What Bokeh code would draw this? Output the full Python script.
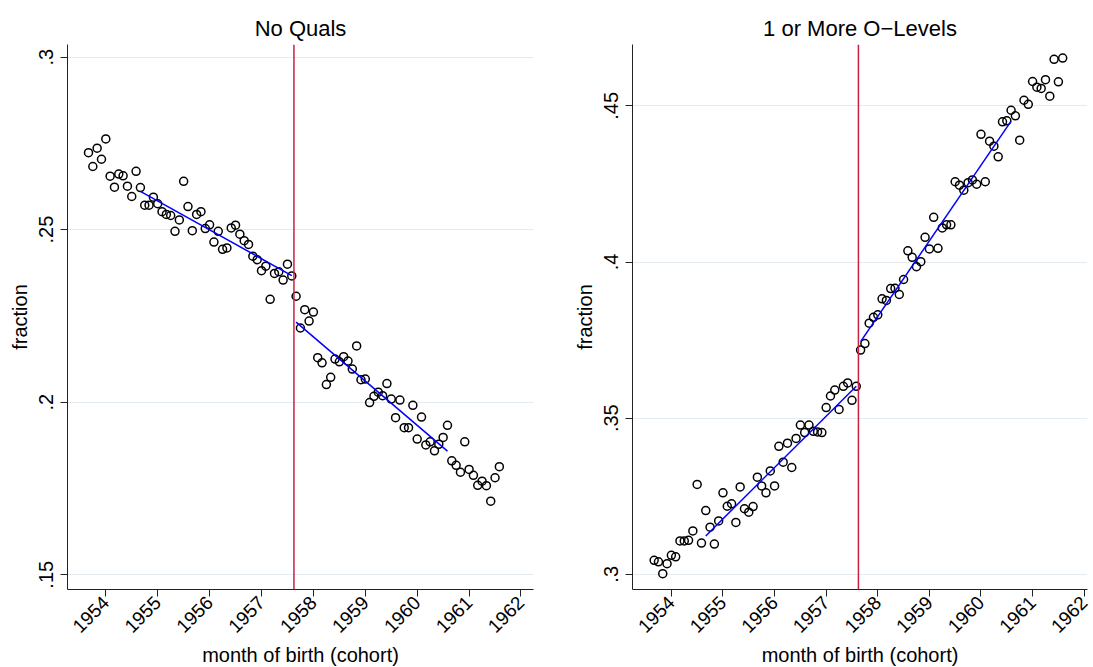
import math
from bokeh.plotting import figure
from bokeh.layouts import row
from bokeh.models import Range1d, Span, FixedTicker
from bokeh.embed import file_html
from bokeh.resources import INLINE

# month of birth (cohort): monthly, Sept 1953 .. Aug 1961 (year + (month-1)/12)
cohort = [1953 + (8 + i) / 12 for i in range(96)]
cutoff = 1957.625

no_quals = [
    .2723, .2683, .2736, .2704, .2763, .2655, .2623, .2661, .2656, .2626, .2596, .2669,
    .2622, .2571, .2571, .2594, .2575, .2552, .2544, .2541, .2495, .2528, .2640, .2567,
    .2497, .2544, .2552, .2503, .2514, .2464, .2495, .2443, .2447, .2505, .2513, .2487,
    .2468, .2457, .2423, .2413, .2381, .2394, .2298, .2373, .2378, .2354, .2400, .2366,
    .2307, .2215, .2268, .2235, .2261, .2129, .2114, .2051, .2072, .2125, .2117, .2132,
    .2119, .2096, .2163, .2065, .2067, .1999, .2017, .2029, .2019, .2054, .2009, .1955,
    .2006, .1926, .1926, .1991, .1893, .1957, .1876, .1885, .1859, .1878, .1898, .1933,
    .1830, .1817, .1797, .1885, .1805, .1788, .1759, .1771, .1758, .1713, .1781, .1813,
]

o_levels = [
    .3045, .3040, .3002, .3034, .3061, .3056, .3107, .3107, .3109, .3139, .3288, .3100,
    .3204, .3151, .3097, .3171, .3261, .3218, .3226, .3166, .3280, .3210, .3199, .3217,
    .3311, .3283, .3261, .3331, .3283, .3410, .3359, .3420, .3342, .3435, .3478, .3454,
    .3478, .3458, .3456, .3454, .3534, .3571, .3590, .3528, .3602, .3613, .3557, .3602,
    .3718, .3739, .3804, .3823, .3831, .3882, .3877, .3915, .3916, .3896, .3944, .4036,
    .4015, .3985, .4001, .4079, .4042, .4143, .4044, .4109, .4119, .4119, .4257, .4246,
    .4230, .4254, .4263, .4249, .4409, .4257, .4387, .4371, .4337, .4449, .4452, .4486,
    .4468, .4390, .4518, .4505, .4578, .4560, .4556, .4584, .4531, .4649, .4577, .4653,
]

# fitted lines (before / after the cutoff)
fit_pre_x = [1954 + 8 / 12, 1957 + 7 / 12]
fit_post_x = [1957 + 8 / 12, 1960 + 7 / 12]
nq_fit_pre = [.2611, .2367]
nq_fit_post = [.2232, .1858]
ol_fit_pre = [.3123, .3602]
ol_fit_post = [.3745, .4451]

year_ticks = [1954, 1955, 1956, 1957, 1958, 1959, 1960, 1961, 1962]
nq_ticks = [.15, .2, .25, .3]
nq_tick_labels = [".15", ".2", ".25", ".3"]
ol_ticks = [.3, .35, .4, .45]
ol_tick_labels = [".3", ".35", ".4", ".45"]

FONT = "Liberation Sans"


def panel(title, yvals, fpre, fpost, xr, yr, yticks, ylabels, bl, br, fw):
    p = figure(
        frame_width=fw, frame_height=545,
        x_range=Range1d(*xr), y_range=Range1d(*yr),
        output_backend="svg", toolbar_location=None,
        min_border_left=bl, min_border_right=br,
        min_border_top=44, min_border_bottom=78,
        title=title,
    )
    p.outline_line_color = None
    p.background_fill_color = "white"
    p.border_fill_color = "white"
    p.title.align = "center"
    p.title.text_font = FONT
    p.title.text_font_size = "22px"
    p.title.text_font_style = "normal"
    p.title.text_color = "black"
    p.title.standoff = 8

    p.xgrid.grid_line_color = None
    p.ygrid.grid_line_color = "#e4ecf1"
    p.ygrid.grid_line_width = 1
    p.ygrid.ticker = FixedTicker(ticks=yticks)

    for ax in (p.xaxis[0], p.yaxis[0]):
        ax.axis_line_color = "#222222"
        ax.axis_line_width = 1
        ax.major_tick_line_color = "#222222"
        ax.major_tick_out = 7
        ax.major_tick_in = 0
        ax.minor_tick_line_color = None
        ax.major_label_text_font = FONT
        ax.major_label_text_color = "black"
        ax.axis_label_text_font = FONT
        ax.axis_label_text_font_style = "normal"
        ax.axis_label_text_font_size = "20px"
        ax.axis_label_text_color = "black"

    xa = p.xaxis[0]
    xa.ticker = FixedTicker(ticks=year_ticks)
    xa.major_label_overrides = {y: str(y) for y in year_ticks}
    xa.major_label_orientation = math.pi / 4
    xa.major_label_text_font_size = "19px"
    xa.major_label_standoff = 3
    xa.axis_label = "month of birth (cohort)"
    xa.axis_label_standoff = 2

    ya = p.yaxis[0]
    ya.ticker = FixedTicker(ticks=yticks)
    ya.major_label_overrides = {t: l for t, l in zip(yticks, ylabels)}
    ya.major_label_orientation = "vertical"
    ya.major_label_text_font_size = "20px"
    ya.major_label_standoff = 7
    ya.axis_label = "fraction"
    ya.axis_label_standoff = 6

    p.scatter(cohort, yvals, marker="circle", size=8, fill_color=None,
              line_color="black", line_width=1.5)
    p.line(fit_pre_x, fpre, line_color="#0000ff", line_width=1.5)
    p.line(fit_post_x, fpost, line_color="#0000ff", line_width=1.5)
    p.add_layout(Span(location=cutoff, dimension="height",
                      line_color="#cc1f45", line_width=1.5))
    return p


left = panel("No Quals", no_quals, nq_fit_pre, nq_fit_post,
             (1953.262, 1962.241), (0.14572, 0.30365),
             nq_ticks, nq_tick_labels, 67, 13, 466)
right = panel("1 or More O\u2212Levels", o_levels, ol_fit_pre, ol_fit_post,
              (1953.247, 1962.064), (0.29514, 0.46965),
              ol_ticks, ol_tick_labels, 86, 6, 455)

layout = row(left, right, spacing=0)
open("out.html", "w").write(file_html(layout, INLINE))
